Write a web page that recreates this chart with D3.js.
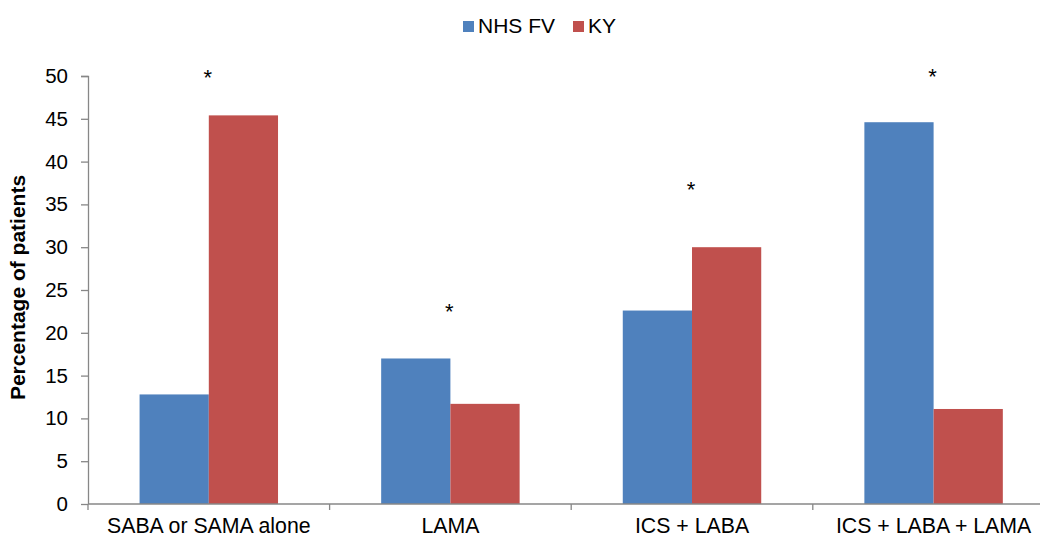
<!DOCTYPE html>
<html>
<head>
<meta charset="utf-8">
<script src="https://cdn.jsdelivr.net/npm/d3@7"></script>
<style>
  html, body { margin: 0; padding: 0; background: #fff; }
  svg { display: block; font-family: "Liberation Sans", Arial, sans-serif; }
</style>
</head>
<body>
<svg id="chart" width="1040" height="538"></svg>
<script>
// Treatment categories and percentage of patients per cohort
const categories = ["SABA or SAMA alone", "LAMA", "ICS + LABA", "ICS + LABA + LAMA"];
const seriesNames = ["NHS FV", "KY"];
const nhsFv = [12.8, 17.0, 22.6, 44.6];
const ky = [45.4, 11.7, 30.0, 11.1];
// Level (in %) at which the significance marker sits for each category
const markerLevels = [50.5, 23.2, 37.4, 50.6];
const markerText = ["*", "*", "*", "*"];
const yTicks = [0, 5, 10, 15, 20, 25, 30, 35, 40, 45, 50];

const colors = { "NHS FV": "#4F81BD", "KY": "#C0504D" };
const axisColor = "#878787";
const tickFont = 20.5;
const labelFont = 21.3;
const markerFont = 22;

const svg = d3.select("#chart");

const plot = { left: 88, right: 1054.4, top: 76, bottom: 504 };

const x = d3.scaleBand()
  .domain(categories)
  .range([plot.left, plot.right])
  .paddingInner(0)
  .paddingOuter(0);

const xSeries = d3.scaleBand()
  .domain(seriesNames)
  .range([0, x.bandwidth()])
  .paddingInner(0)
  .paddingOuter(0.745);

const y = d3.scaleLinear()
  .domain([0, 50])
  .range([plot.bottom, plot.top]);

const rows = categories.map((c, i) => ({
  category: c,
  values: [
    { series: "NHS FV", value: nhsFv[i] },
    { series: "KY", value: ky[i] }
  ]
}));

// Bars
const groups = svg.append("g").selectAll("g")
  .data(rows)
  .join("g")
  .attr("transform", d => `translate(${x(d.category)},0)`);

groups.selectAll("rect")
  .data(d => d.values)
  .join("rect")
  .attr("x", d => xSeries(d.series))
  .attr("y", d => y(d.value))
  .attr("width", xSeries.bandwidth())
  .attr("height", d => y(0) - y(d.value))
  .attr("fill", d => colors[d.series]);

// Y axis
const yAxis = svg.append("g")
  .attr("transform", `translate(${plot.left},0)`)
  .call(d3.axisLeft(y).tickValues(yTicks).tickFormat(d3.format("d")).tickSize(7).tickPadding(13));
yAxis.select(".domain").attr("stroke", axisColor).attr("stroke-width", 1.3)
  .attr("d", `M-7,${plot.top}.5H0.5V${plot.bottom}`);
yAxis.selectAll(".tick line").attr("stroke", axisColor).attr("stroke-width", 1.3);
yAxis.selectAll(".tick text")
  .attr("fill", "#000")
  .attr("font-size", tickFont)
  .attr("font-family", "Liberation Sans, Arial, sans-serif");

// X axis with ticks at category boundaries
const xAxis = svg.append("g")
  .attr("transform", `translate(0,${plot.bottom})`);
xAxis.append("line")
  .attr("x1", plot.left).attr("x2", plot.right)
  .attr("y1", 0).attr("y2", 0)
  .attr("stroke", axisColor).attr("stroke-width", 1.3);
const boundaries = categories.map(c => x(c)).concat([x(categories[categories.length - 1]) + x.bandwidth()]);
xAxis.selectAll("line.bound")
  .data(boundaries)
  .join("line")
  .attr("class", "bound")
  .attr("x1", d => d).attr("x2", d => d)
  .attr("y1", 0).attr("y2", 6)
  .attr("stroke", axisColor).attr("stroke-width", 1.3);
xAxis.selectAll("text")
  .data(categories)
  .join("text")
  .attr("x", d => x(d) + x.bandwidth() / 2)
  .attr("y", 29)
  .attr("text-anchor", "middle")
  .attr("font-size", labelFont)
  .attr("fill", "#000")
  .text(d => d);

// Significance markers
svg.append("g").selectAll("text")
  .data(categories)
  .join("text")
  .attr("x", d => x(d) + x.bandwidth() / 2 - 1)
  .attr("y", (d, i) => y(markerLevels[i]) + markerFont * 0.6)
  .attr("text-anchor", "middle")
  .attr("font-size", markerFont)
  .attr("fill", "#000")
  .text((d, i) => markerText[i]);

// Y axis title
svg.append("text")
  .attr("transform", `translate(25,${(175 + 400) / 2}) rotate(-90)`)
  .attr("text-anchor", "middle")
  .attr("font-size", 21)
  .attr("font-weight", "bold")
  .attr("fill", "#000")
  .text("Percentage of patients");

// Legend
const legend = svg.append("g");
const legendItems = [
  { name: "NHS FV", x: 463 },
  { name: "KY", x: 573 }
];
const li = legend.selectAll("g")
  .data(legendItems)
  .join("g")
  .attr("transform", d => `translate(${d.x},0)`);
li.append("rect")
  .attr("x", 0).attr("y", 21)
  .attr("width", 11).attr("height", 11)
  .attr("fill", d => colors[d.name]);
li.append("text")
  .attr("x", 15).attr("y", 33)
  .attr("font-size", 21)
  .attr("fill", "#000")
  .text(d => d.name);
</script>
</body>
</html>
